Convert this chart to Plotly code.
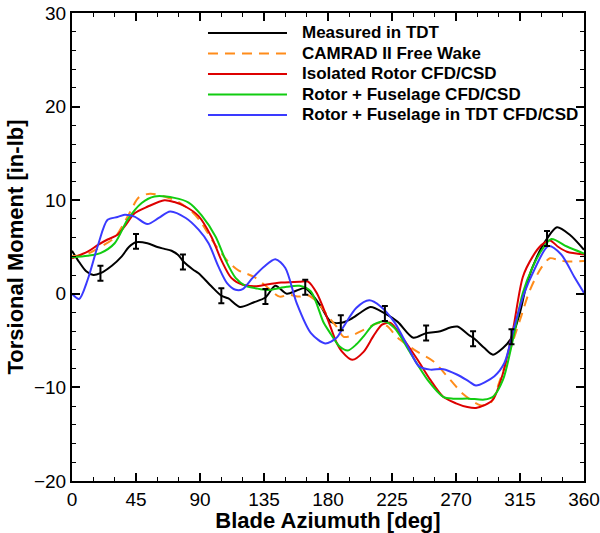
import plotly.graph_objects as go

# Measured in TDT
m_az = [0, 5, 10, 15, 20, 28, 35, 40, 45, 53, 60, 65, 70, 75, 78, 85, 89, 98, 105, 110, 118, 128, 136,
        143, 151, 158, 164, 170, 175, 182, 189, 196, 203, 210, 220, 229, 240, 249, 259, 266, 271, 279,
        283, 290, 296, 303, 309, 315, 320, 327, 334, 341, 350, 360]
m_val = [4.6, 3.4, 2.4, 2.0, 2.2, 3.0, 4.0, 5.0, 5.5, 5.4, 5.0, 4.8, 4.6, 4.1, 3.5, 2.6, 2.2, 0.8, -0.2,
         -0.5, -1.4, -0.9, -0.4, 0.85, 0.0, 0.35, 0.6, -0.3, -1.35, -3.0, -3.1, -2.7, -2.0, -1.4, -2.1,
         -3.0, -4.7, -4.2, -4.0, -3.6, -3.5, -4.4, -4.8, -5.8, -6.5, -5.8, -4.7, -2.0, 1.2, 4.0, 5.9,
         7.1, 6.3, 4.7]

# Measured error bars
e_az = [20, 45, 78, 105, 136, 164, 189, 220, 249, 282, 309, 334]
e_val = [2.2, 5.6, 3.4, -0.2, -0.3, 0.7, -3.1, -2.1, -4.2, -4.8, -4.6, 5.9]
e_err = [0.8] * len(e_az)

# CAMRAD II Free Wake
c_az = [0, 11, 20, 30, 40, 47, 55, 65, 75, 84, 90, 100, 110, 117, 122, 128, 135, 146, 152, 160, 165,
        172, 181, 186, 191, 196, 205, 217, 222, 229, 243, 254, 266, 275, 287, 294, 301, 308, 315, 322,
        330, 336, 342, 348, 360]
c_val = [4.0, 4.3, 5.0, 6.0, 8.5, 10.3, 10.7, 10.4, 9.8, 8.8, 7.8, 5.4, 3.4, 2.5, 2.2, 1.8, 1.0, -0.3,
         -0.1, -0.3, -0.1, -0.8, -2.6, -3.5, -4.6, -4.5, -3.85, -3.1, -3.5, -4.7, -6.2, -7.2, -9.2,
         -10.7, -11.9, -11.7, -9.2, -6.0, -2.8, 0.4, 2.8, 3.8, 3.6, 3.45, 3.5]

# Isolated Rotor CFD/CSD
r_az = [0, 11, 18, 25, 32, 38, 44, 53, 65, 72, 80, 89, 98, 105, 112, 120, 129, 137, 147, 160, 166,
        172, 179, 186, 190, 197, 205, 212, 218, 224, 231, 243, 252, 261, 270, 278, 284, 290, 296, 303,
        310, 317, 324, 330, 336, 342, 348, 360]
r_val = [3.8, 4.5, 5.2, 5.8, 6.3, 7.4, 8.6, 9.3, 10.0, 9.8, 9.3, 8.3, 6.1, 3.6, 1.7, 0.96, 0.8, 1.0,
         1.2, 1.3, 1.3, 0.1, -2.4, -5.2, -6.2, -7.05, -6.2, -4.5, -3.3, -3.1, -4.4, -7.05, -9.2, -11.0,
         -11.7, -12.1, -12.2, -11.9, -11.3, -8.5, -3.9, 1.8, 4.0, 5.2, 5.7, 5.0, 4.5, 4.2]

# Rotor + Fuselage CFD/CSD
g_az = [0, 11, 20, 30, 39, 49, 58, 72, 82, 91, 101, 108, 115, 122, 129, 137, 151, 160, 168, 177, 182,
        188, 194, 200, 205, 212, 220, 227, 238, 250, 261, 268, 279, 290, 296, 303, 310, 317, 324, 330,
        337, 348, 360]
g_val = [3.9, 4.06, 4.35, 5.4, 7.9, 9.7, 10.4, 10.25, 9.75, 8.4, 6.1, 3.6, 1.7, 0.85, 0.6, 0.4, 0.75,
         0.85, 0.25, -3.1, -4.3, -5.6, -6.05, -5.4, -4.55, -3.3, -2.95, -3.7, -6.35, -9.2, -11.0,
         -11.2, -11.2, -11.3, -11.0, -9.2, -4.9, 0.1, 2.9, 4.6, 5.85, 5.05, 4.3]

# Rotor + Fuselage in TDT CFD/CSD
b_az = [0, 5, 11, 18, 25, 32, 37, 44, 53, 61, 69, 80, 89, 96, 103, 109, 115, 120, 127, 135, 143,
        150, 158, 168, 178, 186, 191, 200, 209, 217, 227, 236, 244, 252, 261, 271, 279, 284, 297, 304,
        311, 318, 325, 335, 344, 353, 360]
b_val = [0.0, -0.55, 1.5, 5.05, 7.9, 8.2, 8.45, 8.25, 7.45, 8.1, 8.8, 8.1, 6.85, 5.4, 2.9, 1.15, 0.43,
         0.5, 1.7, 2.9, 3.7, 2.75, -1.0, -4.2, -5.3, -4.7, -3.5, -1.5, -0.7, -1.35, -3.1, -5.6, -7.75,
         -8.1, -8.05, -8.65, -9.35, -9.8, -8.8, -7.4, -3.5, 0.07, 2.55, 5.1, 4.2, 1.85, 0.1]

series_names = ["Measured in TDT", "CAMRAD II Free Wake", "Isolated Rotor CFD/CSD",
                "Rotor + Fuselage CFD/CSD", "Rotor + Fuselage in TDT CFD/CSD"]
series_colors = ["black", "#ff8c1a", "#dd0000", "#11cc11", "#3a3aff"]
series_dash = ["solid", "10px,7px", "solid", "solid", "solid"]
series_data = [(m_az, m_val), (c_az, c_val), (r_az, r_val), (g_az, g_val), (b_az, b_val)]

FONT = "Liberation Sans, Arial, sans-serif"

fig = go.Figure()
lw = 2
for name, col, dash, (xs, ys) in zip(series_names, series_colors, series_dash, series_data):
    fig.add_trace(go.Scatter(x=xs, y=ys, mode="lines", name=name, showlegend=False,
                             line=dict(color=col, width=lw, dash=dash, shape="spline", smoothing=0.8)))
fig.add_trace(go.Scatter(x=e_az, y=e_val, mode="markers", showlegend=False,
                         marker=dict(size=1, color="black"),
                         error_y=dict(type="data", array=e_err, visible=True, color="black",
                                      thickness=2, width=3)))

# Legend drawn in paper coordinates (compact row spacing like the original)
leg_x0, leg_x1, leg_tx = 0.2656, 0.4199, 0.4453
leg_y0, leg_dy = 0.9573, 0.0438
for i, (name, col, dash) in enumerate(zip(series_names, series_colors, series_dash)):
    yy = leg_y0 - i * leg_dy
    fig.add_shape(type="line", xref="paper", yref="paper", x0=leg_x0, x1=leg_x1, y0=yy, y1=yy,
                  line=dict(color=col, width=2, dash=dash))
    fig.add_annotation(xref="paper", yref="paper", x=leg_tx, y=yy, xanchor="left", yanchor="middle",
                       text="<b>" + name + "</b>", showarrow=False,
                       font=dict(family=FONT, size=17, color="black"))

axis_common = dict(showline=True, linecolor="black", linewidth=2, mirror="ticks",
                   ticks="inside", ticklen=8, tickwidth=2, tickcolor="black",
                   showgrid=False, zeroline=False, automargin=False,
                   tickfont=dict(family=FONT, size=19, color="black"))

fig.update_xaxes(range=[0, 360], tickmode="array", tickvals=list(range(0, 361, 45)),
                 minor=dict(ticks="inside", ticklen=4, tickwidth=1, tickcolor="black", dtick=15),
                 title=dict(text="<b>Blade Aziumuth [deg]</b>", font=dict(family=FONT, size=22, color="black"),
                            standoff=0),
                 **axis_common)
fig.update_yaxes(range=[-20, 30], tickmode="array", tickvals=list(range(-20, 31, 10)),
                 minor=dict(ticks="inside", ticklen=4, tickwidth=1, tickcolor="black", dtick=2),
                 title=dict(text="<b>Torsional Moment [in-lb]</b>", font=dict(family=FONT, size=22, color="black"),
                            standoff=4),
                 **axis_common)

fig.update_layout(
    width=600, height=533,
    margin=dict(l=72, r=16, t=13, b=52),
    plot_bgcolor="white", paper_bgcolor="white",
    showlegend=False,
    font=dict(family=FONT, color="black"),
)

fig.write_html("out.html")
